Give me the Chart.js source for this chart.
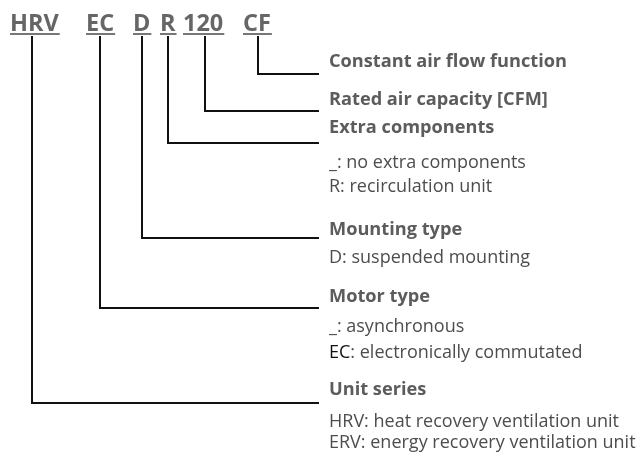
<!DOCTYPE html>
<html lang="en">
<head>
    <meta charset="UTF-8">
    <title>Type code</title>
    <script src="https://cdn.jsdelivr.net/npm/chart.js"></script>
    <style>
        body { margin: 0; background: #fff; }
    </style>
</head>
<body>
<canvas id="myChart" width="639" height="456"></canvas>
<script>
    // type code parts, left to right
    const codes = ['HRV', 'EC', 'D', 'R', '120', 'CF'];
    const codeLeft = [10, 86, 133, 160, 183, 243];
    const stemX = [32, 100, 142, 168, 205, 258];
    const elbowY = [403, 308, 238, 143, 111, 74];

    // explanation column
    const headings = ['Unit series', 'Motor type', 'Mounting type', 'Extra components', 'Rated air capacity [CFM]', 'Constant air flow function'];
    const headingY = [395, 302, 235, 133, 105, 67];
    const notes = [
        ['HRV: heat recovery ventilation unit', 'ERV: energy recovery ventilation unit'],
        ['_: asynchronous', 'EC: electronically commutated'],
        ['D: suspended mounting'],
        ['_: no extra components', 'R: recirculation unit'],
        [],
        []
    ];
    const noteY = [[427, 448], [332, 358], [263], [168, 192], [], []];
    const darkPrefix = ['EC'];

    const stemTop = 36;
    const lineEnd = 319;
    const textX = 329;

    var datasets = [];
    for (var i = 0; i < codes.length; i++) {
        datasets.push({
            label: codes[i],
            data: [
                {x: stemX[i], y: stemTop},
                {x: stemX[i], y: elbowY[i]},
                {x: lineEnd, y: elbowY[i]}
            ],
            showLine: true,
            borderColor: '#111',
            borderWidth: 2,
            pointRadius: 0,
            borderCapStyle: 'butt',
            borderJoinStyle: 'miter',
            tension: 0
        });
    }

    const textPlugin = {
        id: 'texts',
        afterDatasetsDraw(chart) {
            const c = chart.ctx;
            const xs = chart.scales.x;
            const ys = chart.scales.y;
            c.save();
            c.textBaseline = 'alphabetic';
            c.textAlign = 'left';

            // code letters with underline
            c.font = 'bold 23.5px "Open Sans"';
            c.fillStyle = '#666';
            c.strokeStyle = '#777';
            c.lineWidth = 2;
            for (var i = 0; i < codes.length; i++) {
                var x = xs.getPixelForValue(codeLeft[i]);
                var y = ys.getPixelForValue(31);
                c.fillText(codes[i], x, y);
                var w = c.measureText(codes[i]).width;
                c.beginPath();
                c.moveTo(x, ys.getPixelForValue(34));
                c.lineTo(x + w + 1, ys.getPixelForValue(34));
                c.stroke();
            }

            var tx = xs.getPixelForValue(textX);
            for (var j = 0; j < headings.length; j++) {
                c.font = 'bold 18.2px "Open Sans"';
                c.fillStyle = '#5c5c5c';
                c.fillText(headings[j], tx, ys.getPixelForValue(headingY[j]));
                c.font = '18px "Open Sans"';
                for (var k = 0; k < notes[j].length; k++) {
                    var line = notes[j][k];
                    var ny = ys.getPixelForValue(noteY[j][k]);
                    var pre = line.split(':')[0];
                    if (darkPrefix.indexOf(pre) >= 0) {
                        c.fillStyle = '#111';
                        c.fillText(pre, tx, ny);
                        var pw = c.measureText(pre).width;
                        c.fillStyle = '#4d4d4d';
                        c.fillText(line.substring(pre.length), tx + pw, ny);
                    } else {
                        c.fillStyle = '#4d4d4d';
                        c.fillText(line, tx, ny);
                    }
                }
            }
            c.restore();
        }
    };

    const ctx = document.getElementById('myChart');
    new Chart(ctx, {
        type: 'scatter',
        data: { datasets: datasets },
        options: {
            responsive: false,
            animation: false,
            layout: { padding: 0 },
            plugins: {
                legend: { display: false },
                tooltip: { enabled: false }
            },
            scales: {
                x: { type: 'linear', min: 0, max: 639, display: false },
                y: { type: 'linear', min: 0, max: 456, reverse: true, display: false }
            }
        },
        plugins: [textPlugin]
    });
</script>
</body>
</html>
